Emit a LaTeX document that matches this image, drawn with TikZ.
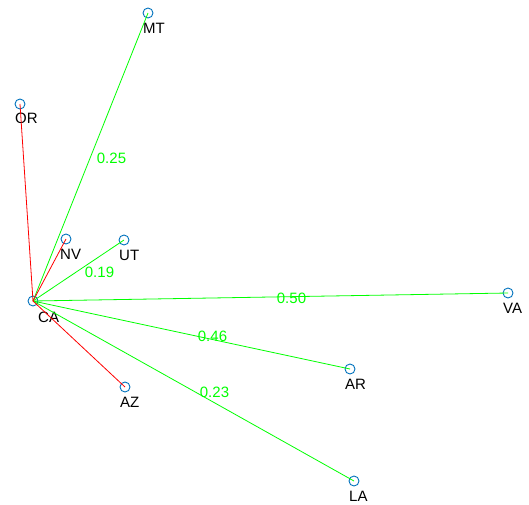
\documentclass[tikz,border=0pt]{standalone}
\usepackage{fontspec}
\setmainfont{Liberation Sans}
\usetikzlibrary{positioning}
\definecolor{stblue}{RGB}{0,114,189}
\definecolor{wgreen}{RGB}{0,255,0}
\definecolor{wred}{RGB}{255,0,0}

\begin{document}
\begin{tikzpicture}[x=1pt,y=-1pt]
            \tikzstyle{state}=[draw=stblue,circle,line width=0.9pt,minimum size=10pt,inner sep=0pt]
            \tikzstyle{stname}=[inner sep=0pt,font=\fontsize{15}{18}\selectfont]
            \tikzstyle{wlink}=[wgreen,line width=0.8pt]
            \tikzstyle{rlink}=[wred,line width=0.8pt]
            \tikzstyle{weight}=[midway,anchor=west,xshift=6pt,yshift=-1.5pt,inner sep=0pt,text=wgreen,font=\fontsize{15}{18}\selectfont]

            \useasboundingbox (0,0) rectangle (529,504);

            \node (ca) [state] at (33,301) {};
            \node (mt) [state] at (148,13) {};
            \node (or) [state] at (20,104) {};
            \node (nv) [state] at (66,239) {};
            \node (ut) [state] at (124,240) {};
            \node (va) [state] at (508,293) {};
            \node (ar) [state] at (350,369) {};
            \node (la) [state] at (354,481) {};
            \node (az) [state] at (125,387) {};

            \node (cal) [stname,below right=11pt and 5pt of ca.center] {CA};
            \node (mtl) [stname,below right=10pt and -5pt of mt.center] {MT};
            \node (orl) [stname,below right=9pt and -5pt of or.center] {OR};
            \node (nvl) [stname,below right=10pt and -6pt of nv.center] {NV};
            \node (utl) [stname,below right=10pt and -5pt of ut.center] {UT};
            \node (val) [stname,below right=10pt and -5pt of va.center] {VA};
            \node (arl) [stname,below right=10pt and -5pt of ar.center] {AR};
            \node (lal) [stname,below right=10pt and -5pt of la.center] {LA};
            \node (azl) [stname,below right=10pt and -5pt of az.center] {AZ};

            % weighted links
            \draw [wlink] (ca.center) -- (mt.center) node[weight] {0.25};
            \draw [wlink] (ca.center) -- (ut.center) node[weight] {0.19};
            \draw [wlink] (ca.center) -- (va.center) node[weight] {0.50};
            \draw [wlink] (ca.center) -- (ar.center) node[weight] {0.46};
            \draw [wlink] (ca.center) -- (la.center) node[weight] {0.23};

            % plain links
            \draw [rlink] (ca.center) -- (or.center);
            \draw [rlink] (ca.center) -- (nv.center);
            \draw [rlink] (ca.center) -- (az.center);
        \end{tikzpicture}
\end{document}
